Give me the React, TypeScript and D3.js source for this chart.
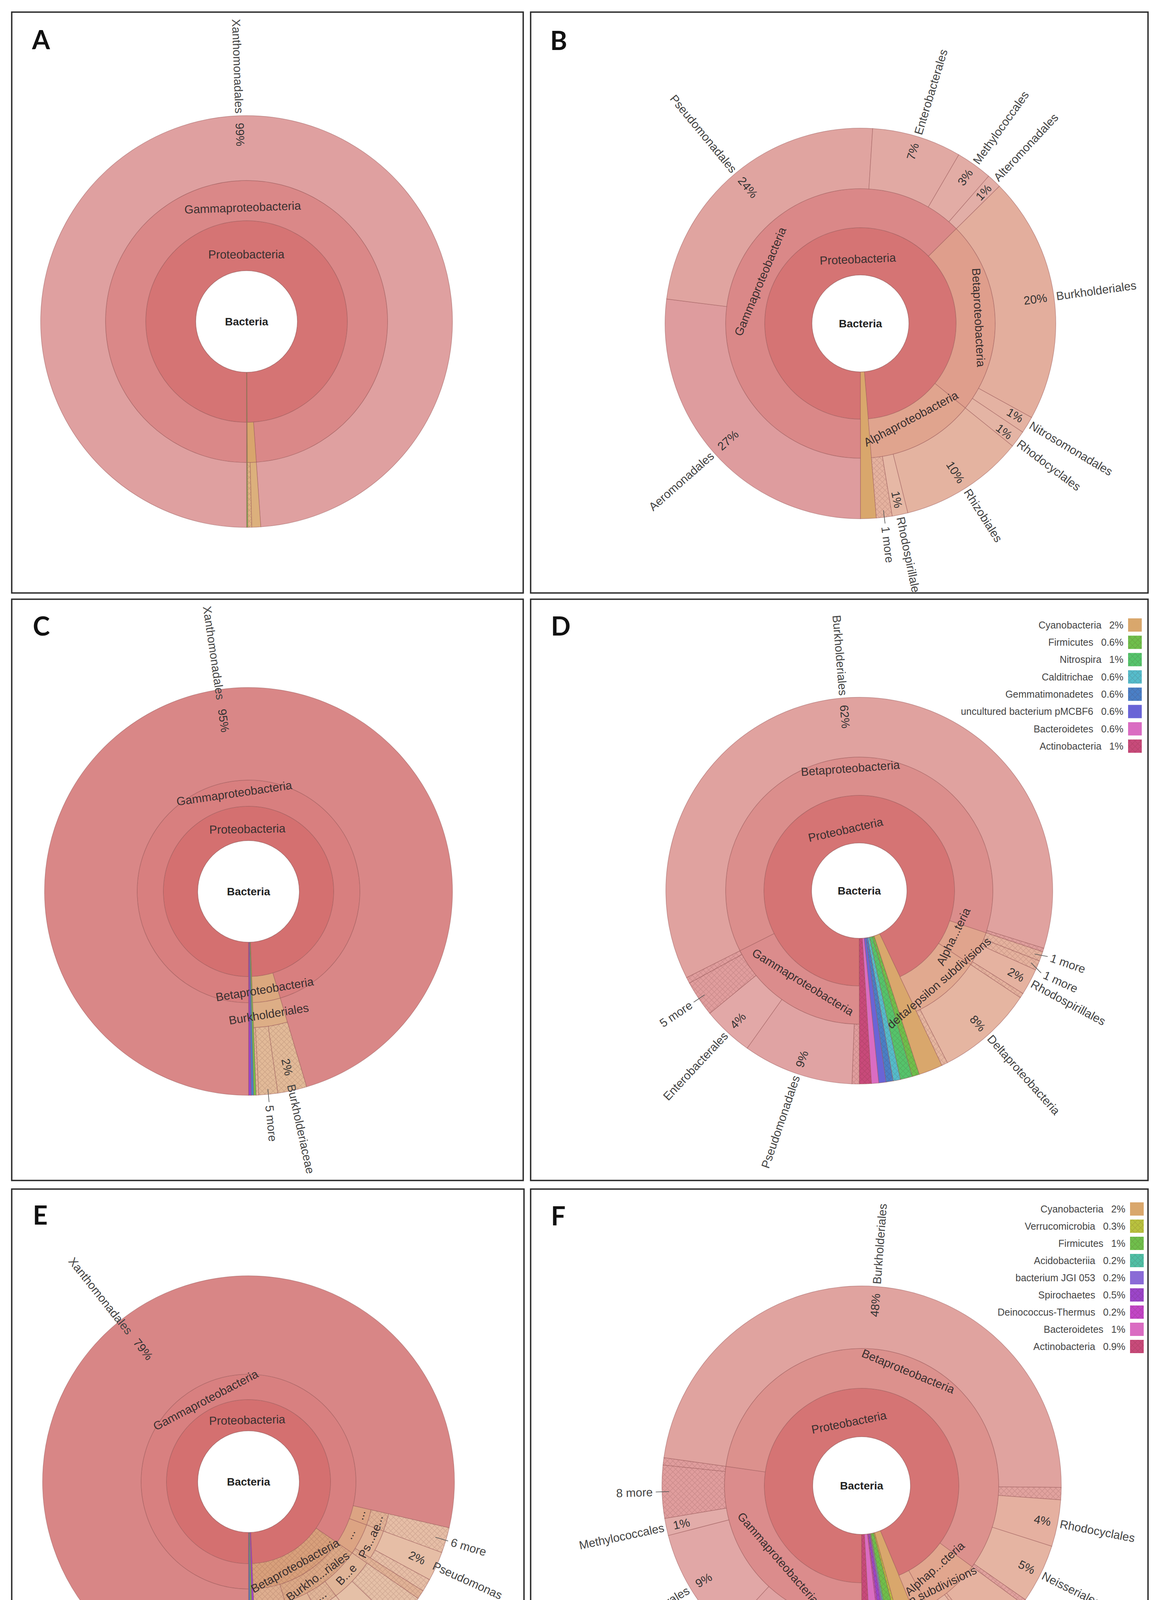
import React, { useMemo } from "react"
import * as d3 from "d3"

type Row = [string, number]

// ---- values (percent of reads) ----
// path levels are separated by ">"
const A_ROWS: Row[] = [
    ["Proteobacteria>Gammaproteobacteria>Xanthomonadales", 98.9],
    ["Proteobacteria>Betaproteobacteria>Burkholderiales", 0.7],
    ["Proteobacteria>Betaproteobacteria>", 0.3],
    ["Firmicutes", 0.1],
]

const B_ROWS: Row[] = [
    ["Proteobacteria>Gammaproteobacteria>Aeromonadales", 27],
    ["Proteobacteria>Gammaproteobacteria>Pseudomonadales", 24],
    ["Proteobacteria>Gammaproteobacteria>Enterobacterales", 7.4],
    ["Proteobacteria>Gammaproteobacteria>Methylococcales", 3],
    ["Proteobacteria>Gammaproteobacteria>Alteromonadales", 1.2],
    ["Proteobacteria>Betaproteobacteria>Burkholderiales", 20.4],
    ["Proteobacteria>Betaproteobacteria>Nitrosomonadales", 1.4],
    ["Proteobacteria>Betaproteobacteria>Rhodocyclales", 1.4],
    ["Proteobacteria>Alphaproteobacteria>Rhizobiales", 10.3],
    ["Proteobacteria>Alphaproteobacteria>Rhodospirillales", 1.3],
    ["Proteobacteria>Alphaproteobacteria>1 more", 1.3],
    ["Cyanobacteria", 1.3],
]

const C_ROWS: Row[] = [
    ["Proteobacteria>Gammaproteobacteria>Xanthomonadales", 95.4],
    ["Proteobacteria>Betaproteobacteria>Burkholderiales>Burkholderiaceae", 2.3],
    ["Proteobacteria>Betaproteobacteria>Burkholderiales>5 more", 1.5],
    ["Proteobacteria>Betaproteobacteria>Burkholderiales>", 0.2],
    ["Firmicutes", 0.2],
    ["Gemmatimonadetes", 0.2],
    ["Spirochaetes", 0.2],
]

const D_ROWS: Row[] = [
    ["Proteobacteria>Gammaproteobacteria>", 0.6],
    ["Proteobacteria>Gammaproteobacteria>Pseudomonadales", 9.2],
    ["Proteobacteria>Gammaproteobacteria>Enterobacterales", 4.2],
    ["Proteobacteria>Gammaproteobacteria>5 more", 3.0],
    ["Proteobacteria>Gammaproteobacteria>", 0.5],
    ["Proteobacteria>Betaproteobacteria>Burkholderiales", 62.0],
    ["Proteobacteria>Betaproteobacteria>", 0.3],
    ["Proteobacteria>Alphaproteobacteria>1 more", 0.8],
    ["Proteobacteria>Alphaproteobacteria>1 more", 0.8],
    ["Proteobacteria>Alphaproteobacteria>Rhodospirillales", 2.2],
    ["Proteobacteria>Alphaproteobacteria>", 0.4],
    ["Proteobacteria>delta/epsilon subdivisions>Deltaproteobacteria", 8.1],
    ["Proteobacteria>delta/epsilon subdivisions>", 0.5],
    ["Cyanobacteria", 2],
    ["Firmicutes", 0.6],
    ["Nitrospira", 1],
    ["Calditrichae", 0.6],
    ["Gemmatimonadetes", 0.6],
    ["uncultured bacterium pMCBF6", 0.6],
    ["Bacteroidetes", 0.6],
    ["Actinobacteria", 1],
]

const E_ROWS: Row[] = [
    ["Proteobacteria>Gammaproteobacteria>Xanthomonadales", 78.6],
    ["Proteobacteria>Gammaproteobacteria>Alteromonadales>Alteromonadaceae>6 more", 2.0],
    ["Proteobacteria>Gammaproteobacteria>Pseudomonadales>Pseudomonadaceae>Pseudomonas", 2.3],
    ["Proteobacteria>Gammaproteobacteria>Pseudomonadales>Pseudomonadaceae>", 1.0],
    ["Proteobacteria>Gammaproteobacteria>Pseudomonadales>", 0.7],
    ["Proteobacteria>Betaproteobacteria>Burkholderiales>Burkholderiaceae>7 more", 2.6],
    ["Proteobacteria>Betaproteobacteria>Burkholderiales>Burkholderiaceae>Ralstonia solanacearum", 2.4],
    ["Proteobacteria>Betaproteobacteria>Burkholderiales>Comamonadaceae>Verminephrobacter", 1.4],
    ["Proteobacteria>Betaproteobacteria>Burkholderiales>Comamonadaceae>11 more", 1.3],
    ["Proteobacteria>Betaproteobacteria>Burkholderiales>Alcaligenaceae>Bordetella", 1.4],
    ["Proteobacteria>Betaproteobacteria>Burkholderiales>Alcaligenaceae>4 more", 1.6],
    ["Proteobacteria>Betaproteobacteria>4 more", 4.0],
    ["Spirochaetes", 0.3],
    ["Firmicutes", 0.2],
    ["Gemmatimonadetes", 0.2],
]

const F_ROWS: Row[] = [
    ["Proteobacteria>Gammaproteobacteria>", 0.7],
    ["Proteobacteria>Gammaproteobacteria>Pseudomonadales", 11.2],
    ["Proteobacteria>Gammaproteobacteria>Enterobacterales", 9.2],
    ["Proteobacteria>Gammaproteobacteria>Methylococcales", 1.4],
    ["Proteobacteria>Gammaproteobacteria>8 more", 4.3],
    ["Proteobacteria>Gammaproteobacteria>", 0.6],
    ["Proteobacteria>Betaproteobacteria>Burkholderiales", 48.2],
    ["Proteobacteria>Betaproteobacteria>", 1.0],
    ["Proteobacteria>Betaproteobacteria>Rhodocyclales", 3.8],
    ["Proteobacteria>Betaproteobacteria>Neisseriales", 4.8],
    ["Proteobacteria>Betaproteobacteria>", 0.4],
    ["Proteobacteria>Alphaproteobacteria>Rhizobiales", 4.3],
    ["Proteobacteria>Alphaproteobacteria>", 0.3],
    ["Proteobacteria>Alphaproteobacteria>Sphingomonadales", 2.0],
    ["Proteobacteria>Alphaproteobacteria>", 0.3],
    ["Proteobacteria>delta/epsilon subdivisions>Deltaproteobacteria", 1.2],
    ["Proteobacteria>delta/epsilon subdivisions>", 0.6],
    ["Cyanobacteria", 2],
    ["Verrucomicrobia", 0.3],
    ["Firmicutes", 1],
    ["Acidobacteriia", 0.2],
    ["bacterium JGI 053", 0.2],
    ["Spirochaetes", 0.5],
    ["Deinococcus-Thermus", 0.2],
    ["Bacteroidetes", 1],
    ["Actinobacteria", 0.9],
]

// ---- labels drawn inside the rings (display text, truncated as in Krona) ----
const A_INNER = { Proteobacteria: "Proteobacteria", Gammaproteobacteria: "Gammaproteobacteria" }
const B_INNER = {
    Proteobacteria: "Proteobacteria",
    Gammaproteobacteria: "Gammaproteobacteria",
    Betaproteobacteria: "Betaproteobacteria",
    Alphaproteobacteria: "Alphaproteobacteria",
}
const C_INNER = {
    Proteobacteria: "Proteobacteria",
    Gammaproteobacteria: "Gammaproteobacteria",
    Betaproteobacteria: "Betaproteobacteria",
    Burkholderiales: "Burkholderiales",
}
const D_INNER = {
    Proteobacteria: "Proteobacteria",
    Gammaproteobacteria: "Gammaproteobacteria",
    Betaproteobacteria: "Betaproteobacteria",
    Alphaproteobacteria: "Alpha...teria",
    "delta/epsilon subdivisions": "delta/epsilon subdivisions",
}
const E_INNER = {
    Proteobacteria: "Proteobacteria",
    Gammaproteobacteria: "Gammaproteobacteria",
    Betaproteobacteria: "Betaproteobacteria",
    Burkholderiales: "Burkho...riales",
    Burkholderiaceae: "B...e",
    Pseudomonadaceae: "Ps...ae",
    Pseudomonadales: "...",
    Alteromonadales: "...",
    Alteromonadaceae: "...",
    Comamonadaceae: "...",
    Alcaligenaceae: "...",
}
const F_INNER = {
    Proteobacteria: "Proteobacteria",
    Gammaproteobacteria: "Gammaproteobacteria",
    Betaproteobacteria: "Betaproteobacteria",
    Alphaproteobacteria: "Alphap...cteria",
    "delta/epsilon subdivisions": "delta/epsilon subdivisions",
}

// ---- colours ----
const PHYLA_COLORS = {
    Proteobacteria: "#d57474",
    Gammaproteobacteria: "#da8888",
    Cyanobacteria: "#d9a76c",
    Firmicutes: "#6fbf4b",
    Nitrospira: "#55c46b",
    Calditrichae: "#55bccb",
    Gemmatimonadetes: "#4a7fc6",
    "uncultured bacterium pMCBF6": "#6a64d6",
    Bacteroidetes: "#da6cc2",
    Actinobacteria: "#c84a7a",
    Verrucomicrobia: "#b8c23e",
    Acidobacteriia: "#4fbfa5",
    "bacterium JGI 053": "#8a6bd6",
    Spirochaetes: "#9b45c9",
    "Deinococcus-Thermus": "#c245c6",
}
const A_COLORS = { Xanthomonadales: "#dfa0a0", Betaproteobacteria: "#d8a56c", Burkholderiales: "#dcb07c" }
const B_COLORS = {
    Aeromonadales: "#de9c9e", Pseudomonadales: "#e0a4a0", Enterobacterales: "#e1a9a3",
    Methylococcales: "#e2aca5", Alteromonadales: "#e2aea7", Betaproteobacteria: "#df9e8c",
    Burkholderiales: "#e3ae9d", Nitrosomonadales: "#e4b2a2", Rhodocyclales: "#e4b4a4",
    Alphaproteobacteria: "#e0a48e", Rhizobiales: "#e4b3a0", Rhodospirillales: "#e6b8a5",
}
const C_COLORS = {
    Proteobacteria: "#d47070", Gammaproteobacteria: "#d87f7f", Xanthomonadales: "#d98787",
    Betaproteobacteria: "#dba87e", Burkholderiales: "#ddae86",
}
const D_COLORS = {
    Gammaproteobacteria: "#db8c8c", Pseudomonadales: "#e0a3a3", Enterobacterales: "#e2a8a7",
    Betaproteobacteria: "#db8e8c", Burkholderiales: "#e0a29f", Alphaproteobacteria: "#e0a48d",
    Rhodospirillales: "#e5b2a0", "delta/epsilon subdivisions": "#e1a98f", Deltaproteobacteria: "#e5b5a1",
}
const E_COLORS = {
    Proteobacteria: "#d47070", Gammaproteobacteria: "#d88080", Xanthomonadales: "#d88686",
    Alteromonadales: "#dca483", Pseudomonadales: "#dca483", Betaproteobacteria: "#d8a07b",
    Burkholderiales: "#dba886",
}
const F_COLORS = {
    Gammaproteobacteria: "#db8c8c", Pseudomonadales: "#e0a3a3", Enterobacterales: "#e1a7a6",
    Methylococcales: "#e2aca9", Betaproteobacteria: "#dc918d", Burkholderiales: "#e0a39f",
    Rhodocyclales: "#e5b0a0", Neisseriales: "#e5b4a2", Alphaproteobacteria: "#e1a68e",
    Rhizobiales: "#e5b2a0", Sphingomonadales: "#e6b8a6", "delta/epsilon subdivisions": "#e1a98f",
    Deltaproteobacteria: "#e6b7a4",
}

// nodes drawn with the cross-hatch (besides unnamed / "n more")
const C_HATCH = ["Burkholderiaceae"]
const D_HATCH = ["Firmicutes", "Nitrospira", "Calditrichae", "Gemmatimonadetes", "Actinobacteria"]
const E_HATCH = ["Betaproteobacteria", "Burkholderiales", "Alteromonadaceae", "Comamonadaceae"]
const F_HATCH = ["Verrucomicrobia", "Firmicutes", "Acidobacteriia", "Spirochaetes", "Deinococcus-Thermus", "Actinobacteria"]

// ---- layout of the 2x3 grid ----
// labelR: radius of the tangential label of a node; shift: radial offset of leaf labels;
// spread: angular nudge (degrees) of crowded leaf labels, keyed name#occurrence
const PANELS = [
    { id: "A", rows: A_ROWS, inner: A_INNER, colors: A_COLORS, hatch: [], rect: [30, 31, 1339, 1518], letter: [82, 126],
      cx: 631, cy: 823, R: 527, rings: [130, 258, 361], legend: null, shift: 0, shiftMore: 0, shiftBy: {}, spread: {},
      labelR: { Proteobacteria: 172, Gammaproteobacteria: 292 } },
    { id: "B", rows: B_ROWS, inner: B_INNER, colors: B_COLORS, hatch: [], rect: [1358, 31, 2938, 1518], letter: [1408, 128],
      cx: 2202, cy: 828, R: 500, rings: [124, 245, 345], legend: null, shift: 0, shiftMore: 0, shiftBy: {},
      spread: { "Nitrosomonadales#0": -0.6, "Rhodocyclales#0": 0.6 },
      labelR: { Proteobacteria: 165, Gammaproteobacteria: 278, Betaproteobacteria: 303, Alphaproteobacteria: 276 } },
    { id: "C", rows: C_ROWS, inner: C_INNER, colors: C_COLORS, hatch: C_HATCH, rect: [30, 1534, 1339, 3022], letter: [84, 1627],
      cx: 636, cy: 2282, R: 522, rings: [130, 218, 285, 349], legend: null, shift: -22, shiftMore: 4,
      shiftBy: { Xanthomonadales: -10 }, spread: {},
      labelR: { Proteobacteria: 160, Gammaproteobacteria: 254, Betaproteobacteria: 254, Burkholderiales: 318 } },
    { id: "D", rows: D_ROWS, inner: D_INNER, colors: D_COLORS, hatch: D_HATCH, rect: [1358, 1534, 2938, 3022], letter: [1410, 1627],
      cx: 2199, cy: 2280, R: 495, rings: [122, 244, 342], legend: { x: 2875, y: 1600, step: 44.3 }, shift: 0, shiftMore: 0,
      shiftBy: {}, spread: { "1 more#0": -0.6, "1 more#1": 1.6 },
      labelR: { Proteobacteria: 160, Gammaproteobacteria: 275, Betaproteobacteria: 314, Alphaproteobacteria: 268,
          "delta/epsilon subdivisions": 312 } },
    { id: "E", rows: E_ROWS, inner: E_INNER, colors: E_COLORS, hatch: E_HATCH, rect: [30, 3044, 1341, 4533], letter: [84, 3135],
      cx: 636, cy: 3793, R: 527, rings: [130, 210, 275, 322, 368], legend: null, shift: -14, shiftMore: -10,
      shiftBy: { Xanthomonadales: -32 }, spread: {},
      labelR: { Proteobacteria: 158, Gammaproteobacteria: 236, Betaproteobacteria: 246, Burkholderiales: 300,
          Burkholderiaceae: 345, Pseudomonadaceae: 345, Pseudomonadales: 292 } },
    { id: "F", rows: F_ROWS, inner: F_INNER, colors: F_COLORS, hatch: F_HATCH, rect: [1358, 3044, 2938, 4533], letter: [1410, 3137],
      cx: 2205, cy: 3803, R: 511, rings: [125, 249, 351], legend: { x: 2880, y: 3095, step: 44 }, shift: 0, shiftMore: 0,
      shiftBy: {}, spread: {},
      labelR: { Proteobacteria: 165, Gammaproteobacteria: 283, Betaproteobacteria: 316, Alphaproteobacteria: 283,
          "delta/epsilon subdivisions": 320 } },
]

const FONT = "'Liberation Sans', Arial, Helvetica, sans-serif"

function buildTree(rows: Row[]) {
    const root: any = { name: "Bacteria", children: [] }
    rows.forEach(([path, value]) => {
        const parts = path.split(">")
        let node = root
        parts.forEach((p, i) => {
            if (i === parts.length - 1) {
                node.children.push({ name: p, value })
            } else {
                let c = node.children.find((d: any) => d.name === p && d.children)
                if (!c) {
                    c = { name: p, children: [] }
                    node.children.push(c)
                }
                node = c
            }
        })
    })
    return root
}

const angle = (x: number) => Math.PI + 2 * Math.PI * x
const deg = (x: number) => (((180 + 360 * x) % 360) + 360) % 360
const isMore = (n: string) => / more$/.test(n)
const polar = (r: number, t: number) => {
    const a = (t * Math.PI) / 180
    return [r * Math.sin(a), -r * Math.cos(a)]
}

const arcGen = d3
    .arc<any>()
    .innerRadius(d => d.r0)
    .outerRadius(d => d.r1)
    .startAngle(d => d.a0)
    .endAngle(d => d.a1)

function colorOf(node: any, map: any): string {
    const n = node.data.name
    if (map[n]) return map[n]
    if (PHYLA_COLORS[n]) return PHYLA_COLORS[n]
    if (!node.parent || !node.parent.parent) return "#cccccc"
    return d3.interpolateRgb(colorOf(node.parent, map), "#ffffff")(0.15)
}

const Panel: React.FC<{ cfg: any }> = ({ cfg }) => {
    const root = useMemo(() => {
        const h = d3.hierarchy(buildTree(cfg.rows)).sum((d: any) => d.value ?? 0)
        return d3.partition<any>().size([1, 1])(h)
    }, [cfg])
    const total = root.value || 1
    const R = cfg.R
    const nodes = root.descendants().filter(d => d.depth > 0)
    const rIn = (d: any) => cfg.rings[d.depth - 1]
    const rOut = (d: any) => (d.children ? cfg.rings[d.depth] : R)
    const hatched = (d: any) =>
        d.data.name === "" || isMore(d.data.name) || cfg.hatch.includes(d.data.name)

    const [x0, y0, x1, y1] = cfg.rect
    const clipId = "clip" + cfg.id

    const legendItems = (root.children || []).filter(c => !c.children)
    const fmtPct = (v: number) => {
        const p = (100 * v) / total
        return p < 0.95 ? p.toFixed(1) + "%" : Math.round(p) + "%"
    }

    const seen: Record<string, number> = {}
    const leaves = nodes.filter(d => !d.children && d.depth >= 2 && d.data.name !== "")

    return (
        <g>
            <clipPath id={clipId}>
                <rect x={x0} y={y0} width={x1 - x0} height={y1 - y0} />
            </clipPath>
            <rect x={x0} y={y0} width={x1 - x0} height={y1 - y0} fill="#fff" />
            <g clipPath={`url(#${clipId})`}>
                <text x={cfg.letter[0]} y={cfg.letter[1]} fontFamily="Lato, 'Open Sans', sans-serif" fontWeight={700}
                    fontSize={66} fill="#111">
                    {cfg.id}
                </text>
                <g transform={`translate(${cfg.cx},${cfg.cy})`} fontFamily={FONT}>
                    {nodes.map((d, i) => {
                        const path = arcGen({ r0: rIn(d), r1: rOut(d), a0: angle(d.x0), a1: angle(d.x1) }) || ""
                        return (
                            <g key={i}>
                                <path d={path} fill={colorOf(d, cfg.colors)} stroke="#9a5a5a" strokeOpacity={0.55}
                                    strokeWidth={1.5} />
                                {hatched(d) && <path d={path} fill="url(#hatch)" stroke="none" />}
                            </g>
                        )
                    })}
                    <circle r={cfg.rings[0]} fill="#fff" stroke="#9a5a5a" strokeOpacity={0.6} strokeWidth={1.5} />
                    <text textAnchor="middle" dy="0.35em" fontWeight="bold" fontSize={28} fill="#222">
                        Bacteria
                    </text>

                    {/* labels inside the rings, tangential */}
                    {nodes
                        .filter(d => d.children && cfg.inner[d.data.name] !== undefined)
                        .map((d, i) => {
                            const t = deg((d.x0 + d.x1) / 2)
                            const r = cfg.labelR[d.data.name] ?? (rIn(d) + rOut(d)) / 2
                            const [px, py] = polar(r, t)
                            const rot = t > 90 && t < 270 ? t - 180 : t
                            return (
                                <text key={"in" + i} transform={`translate(${px},${py}) rotate(${rot})`}
                                    textAnchor="middle" dy="0.35em" fontSize={30} fill="#3a3030">
                                    {cfg.inner[d.data.name]}
                                </text>
                            )
                        })}

                    {/* radial labels for leaves */}
                    {leaves.map((d, i) => {
                        const name = d.data.name
                        const k = seen[name] ?? 0
                        seen[name] = k + 1
                        const tNode = deg((d.x0 + d.x1) / 2)
                        const t = tNode + (cfg.spread[name + "#" + k] ?? 0)
                        const right = t < 180
                        const rot = right ? t - 90 : t + 90
                        const s = right ? 1 : -1
                        if (isMore(name)) {
                            const Rm = R + cfg.shiftMore
                            const [ax, ay] = polar(Rm - 18, tNode)
                            const [bx, by] = polar(Rm + 16, t)
                            return (
                                <g key={"lf" + i}>
                                    <line x1={ax} y1={ay} x2={bx} y2={by} stroke="#555" strokeWidth={1.6} />
                                    <text transform={`rotate(${rot})`} x={s * (Rm + 24)} dy="0.35em"
                                        textAnchor={right ? "start" : "end"} fontSize={30} fill="#444">
                                        {name}
                                    </text>
                                </g>
                            )
                        }
                        if ((d.value || 0) / total < 0.0095) return null
                        const Rl = R + cfg.shift + (cfg.shiftBy[name] ?? 0)
                        return (
                            <g key={"lf" + i} transform={`rotate(${rot})`}>
                                <text x={s * (Rl - 18)} dy="0.35em" textAnchor={right ? "end" : "start"}
                                    fontSize={30} fill="#333">
                                    {Math.round((100 * (d.value || 0)) / total)}%
                                </text>
                                <text x={s * (Rl + 6)} dy="0.35em" textAnchor={right ? "start" : "end"}
                                    fontSize={30} fill="#444">
                                    {name}
                                </text>
                            </g>
                        )
                    })}
                </g>

                {cfg.legend &&
                    legendItems.map((d, i) => {
                        const y = cfg.legend.y + i * cfg.legend.step
                        const c = colorOf(d, cfg.colors)
                        return (
                            <g key={"lg" + i} fontFamily={FONT}>
                                <text x={cfg.legend.x} y={y} dy="0.35em" textAnchor="end" fontSize={25} fill="#444">
                                    {d.data.name}
                                    <tspan dx={20}>{fmtPct(d.value || 0)}</tspan>
                                </text>
                                <rect x={cfg.legend.x + 12} y={y - 17} width={35} height={34} fill={c} />
                                {cfg.hatch.includes(d.data.name) && (
                                    <rect x={cfg.legend.x + 12} y={y - 17} width={35} height={34} fill="url(#hatch)" />
                                )}
                            </g>
                        )
                    })}
            </g>
            <rect x={x0} y={y0} width={x1 - x0} height={y1 - y0} fill="none" stroke="#2a2a2a" strokeWidth={3.5} />
        </g>
    )
}

const App: React.FC = () => {
    return (
        <svg width={2961} height={4565} style={{ position: "absolute", left: 0, top: 0 }}>
            <defs>
                <pattern id="hatch" patternUnits="userSpaceOnUse" width={14} height={14}>
                    <path d="M0,0L14,14M14,0L0,14" stroke="rgba(80,30,30,0.14)" strokeWidth={1.4} />
                </pattern>
            </defs>
            <rect width={2961} height={4565} fill="#fff" />
            {PANELS.map(p => (
                <Panel key={p.id} cfg={p} />
            ))}
        </svg>
    )
}

export default App
